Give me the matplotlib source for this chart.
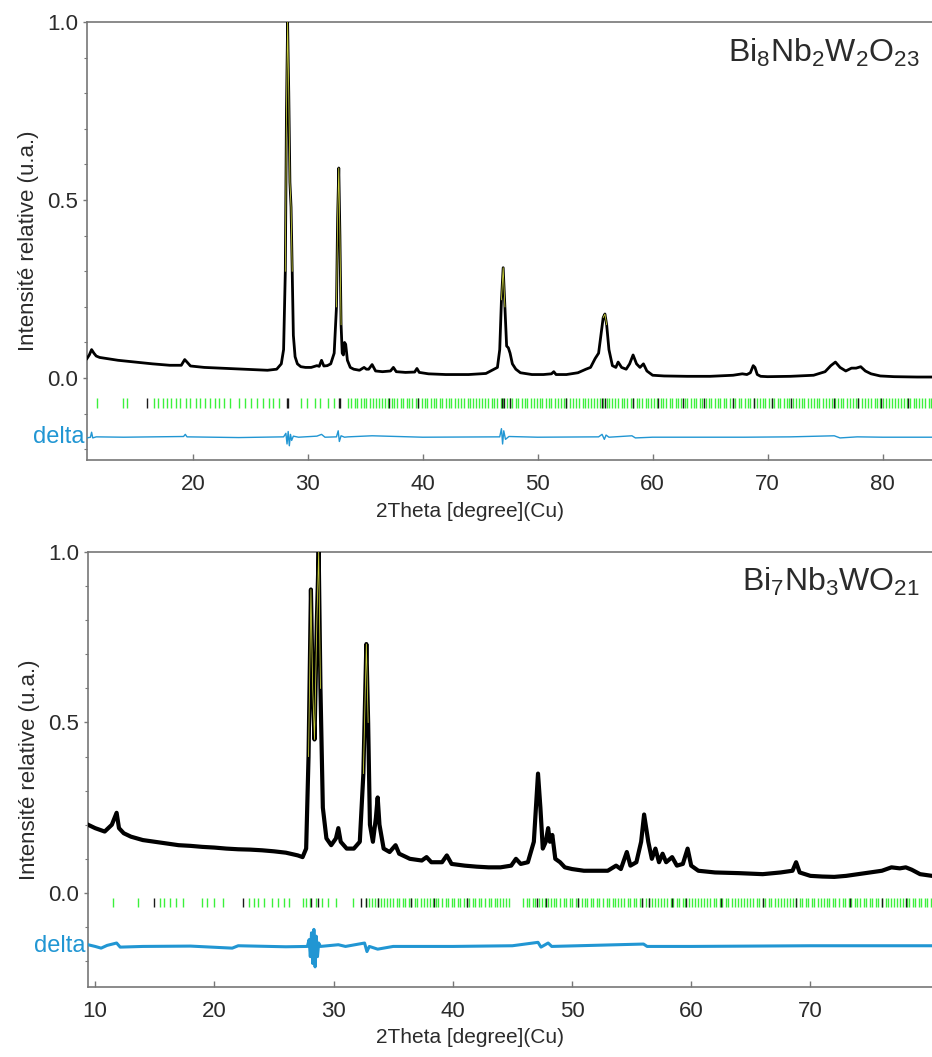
import numpy as np
import matplotlib
matplotlib.use("Agg")
import matplotlib.pyplot as plt
from matplotlib.ticker import MultipleLocator

plt.rcParams['font.family'] = ['Liberation Sans', 'DejaVu Sans']
plt.rcParams['mathtext.fontset'] = 'custom'
plt.rcParams['mathtext.rm'] = 'Liberation Sans'
plt.rcParams['mathtext.it'] = 'Liberation Sans:italic'
plt.rcParams['mathtext.default'] = 'regular'

# ---------------- Top panel: Bi8Nb2W2O23 ----------------
top_x = [10.8, 11.0, 11.2, 11.4, 11.6, 11.9, 12.5, 13.5, 15, 16.5, 18, 19.0, 19.3, 19.5, 19.8, 21, 23, 25, 26.5,
         27.3, 27.7, 27.9, 28.05, 28.15, 28.25, 28.35, 28.45, 28.55, 28.65, 28.75, 28.9, 29.1, 29.4, 29.8, 30.3,
         30.8, 31.0, 31.2, 31.4, 31.7, 32.0, 32.3, 32.5, 32.6, 32.7, 32.8, 32.9, 33.0, 33.1, 33.2, 33.3, 33.45,
         33.7, 34.0, 34.5, 34.9, 35.1, 35.3, 35.6, 35.9, 36.5, 37.2, 37.45, 37.7, 38.5, 39.3, 39.5, 39.7, 40.5,
         42, 44, 45.5, 46.2, 46.5, 46.7, 46.85, 47.0, 47.15, 47.3, 47.45, 47.6, 47.8, 48.1, 48.5, 49.5, 50.5,
         51.2, 51.4, 51.6, 52.5, 53.5, 54.2, 54.6, 55.0, 55.3, 55.5, 55.7, 55.85, 56.0, 56.2, 56.5, 56.8, 57.0,
         57.3, 57.7, 58.0, 58.3, 58.6, 58.9, 59.2, 59.5, 60.0, 61, 63, 65, 67, 67.8, 68.2, 68.5, 68.75, 68.9,
         69.1, 69.4, 70, 72, 74, 75.0, 75.5, 75.9, 76.3, 76.8, 77.3, 77.7, 78.1, 78.5, 79.0, 79.8, 81, 83, 84.3]
top_y = [0.055, 0.065, 0.08, 0.07, 0.062, 0.058, 0.055, 0.05, 0.045, 0.04, 0.036, 0.036, 0.052, 0.045, 0.034,
         0.03, 0.027, 0.024, 0.022, 0.025, 0.04, 0.08, 0.3, 0.75, 1.0, 0.8, 0.55, 0.48, 0.3, 0.12, 0.06, 0.04,
         0.032, 0.03, 0.03, 0.035, 0.033, 0.05, 0.034, 0.035, 0.04, 0.07, 0.2, 0.45, 0.59, 0.4, 0.15, 0.07,
         0.065, 0.1, 0.095, 0.05, 0.03, 0.025, 0.022, 0.03, 0.025, 0.025, 0.038, 0.02, 0.018, 0.02, 0.03,
         0.018, 0.016, 0.017, 0.027, 0.016, 0.012, 0.01, 0.01, 0.013, 0.025, 0.03, 0.08, 0.22, 0.31, 0.2,
         0.09, 0.085, 0.07, 0.04, 0.025, 0.015, 0.01, 0.01, 0.012, 0.018, 0.01, 0.01, 0.015, 0.025, 0.03,
         0.055, 0.07, 0.12, 0.17, 0.18, 0.15, 0.08, 0.035, 0.03, 0.045, 0.03, 0.025, 0.04, 0.065, 0.04, 0.03,
         0.04, 0.02, 0.008, 0.006, 0.005, 0.005, 0.008, 0.012, 0.01, 0.015, 0.035, 0.03, 0.01, 0.005, 0.004,
         0.005, 0.008, 0.018, 0.035, 0.045, 0.03, 0.02, 0.028, 0.028, 0.032, 0.02, 0.012, 0.006, 0.004,
         0.003, 0.003]

top_delta_x = [10.8, 11.1, 11.2, 11.3, 11.6, 14, 19.2, 19.35, 19.5, 24, 27.9, 28.1, 28.2, 28.3, 28.4, 28.5,
               28.6, 28.75, 29.2, 30.8, 31.2, 31.5, 32.5, 32.65, 32.75, 32.9, 33.2, 33.5, 35.6, 40, 46.7,
               46.85, 46.95, 47.05, 47.2, 47.5, 50, 55.3, 55.6, 55.8, 55.95, 56.2, 58.2, 58.5, 60, 68, 72,
               75.8, 76.3, 77.8, 80, 85]
top_delta_y = [-0.168, -0.166, -0.152, -0.168, -0.165, -0.166, -0.164, -0.158, -0.165, -0.167, -0.165,
               -0.155, -0.185, -0.15, -0.19, -0.158, -0.175, -0.163, -0.166, -0.163, -0.158, -0.166,
               -0.165, -0.148, -0.178, -0.162, -0.166, -0.165, -0.162, -0.166, -0.165, -0.142, -0.185,
               -0.148, -0.172, -0.164, -0.166, -0.165, -0.158, -0.172, -0.16, -0.166, -0.162, -0.168,
               -0.166, -0.166, -0.165, -0.162, -0.168, -0.165, -0.166, -0.166]

top_ticks_green = [11.7, 13.9, 14.3, 16.6, 17.0, 17.4, 17.8, 18.1, 18.5, 18.9, 19.4, 19.8, 20.3, 20.6, 21.1,
                   21.5, 21.9, 22.3, 22.7, 23.2, 24.0, 24.5, 25.1, 25.6, 26.1, 26.6, 27.0, 27.5, 29.4, 29.9,
                   30.6, 31.1, 31.8, 32.3, 33.5, 33.8, 34.1, 34.3, 34.6, 34.9, 35.1, 35.4, 35.7, 35.9, 36.2,
                   36.5, 36.7, 37.0, 37.3, 37.5, 37.8, 38.1, 38.3, 38.6, 38.8, 39.1, 39.4, 39.6, 39.9, 40.2,
                   40.4, 40.7, 41.0, 41.2, 41.5, 41.7, 42.0, 42.3, 42.5, 42.8, 43.1, 43.3, 43.6, 43.9, 44.1,
                   44.4, 44.6, 44.9, 45.2, 45.4, 45.7, 46.0, 46.2, 46.5, 46.8, 47.0, 47.3, 47.6, 47.8, 48.1,
                   48.3, 48.6, 48.9, 49.1, 49.4, 49.7, 49.9, 50.2, 50.4, 50.7, 51.0, 51.2, 51.5, 51.8, 52.0,
                   52.3, 52.5, 52.8, 53.1, 53.3, 53.6, 53.9, 54.1, 54.4, 54.6, 54.9, 55.2, 55.4, 55.7, 56.0,
                   56.2, 56.5, 56.7, 57.0, 57.3, 57.5, 57.8, 58.1, 58.3, 58.6, 58.8, 59.1, 59.4, 59.6, 59.9,
                   60.1, 60.4, 60.7, 60.9, 61.2, 61.5, 61.7, 62.0, 62.2, 62.5, 62.8, 63.0, 63.3, 63.6, 63.8,
                   64.1, 64.3, 64.6, 64.9, 65.1, 65.4, 65.7, 65.9, 66.2, 66.4, 66.7, 67.0, 67.2, 67.5, 67.7,
                   68.0, 68.3, 68.5, 68.8, 69.1, 69.3, 69.6, 69.8, 70.1, 70.4, 70.6, 70.9, 71.1, 71.4, 71.7,
                   71.9, 72.2, 72.5, 72.7, 73.0, 73.2, 73.5, 73.8, 74.0, 74.3, 74.5, 74.8, 75.1, 75.3, 75.6,
                   75.9, 76.1, 76.4, 76.6, 76.9, 77.2, 77.4, 77.7, 77.9, 78.2, 78.5, 78.7, 79.0, 79.3, 79.5,
                   79.8, 80.0, 80.3, 80.6, 80.8, 81.1, 81.3, 81.6, 81.9, 82.1, 82.4, 82.7, 82.9, 83.2, 83.4,
                   83.7, 84.0, 84.2]
top_ticks_black = [16.0, 28.2, 28.3, 32.7, 32.8, 37.1, 39.6, 46.9, 47.1, 47.6, 52.5, 55.6, 55.9, 58.3, 60.5,
                   62.6, 64.5, 67.0, 68.8, 70.4, 72.0, 75.8, 77.9, 79.9, 82.2]

# ---------------- Bottom panel: Bi7Nb3WO21 ----------------
bot_x = [9.4, 10, 10.8, 11.4, 11.8, 12.0, 12.4, 13, 14, 15, 16, 17, 18, 19, 20, 21, 22, 23, 24, 25, 26, 27,
         27.4, 27.7, 27.9, 28.1, 28.25, 28.4, 28.6, 28.75, 28.9, 29.1, 29.4, 29.8, 30.2, 30.4, 30.6, 31.1,
         31.7, 32.2, 32.5, 32.75, 32.9, 33.05, 33.3, 33.55, 33.7, 33.85, 34.2, 34.7, 35.2, 35.5, 36.4, 37.4,
         37.8, 38.2, 39.1, 39.5, 39.9, 41, 42, 43, 44, 44.9, 45.3, 45.7, 46.3, 46.8, 47.15, 47.35, 47.55,
         47.8, 48.0, 48.15, 48.35, 48.6, 49.0, 49.4, 50, 51, 52, 53, 53.7, 54.1, 54.6, 54.9, 55.4, 55.8,
         56.05, 56.4, 56.7, 57.0, 57.3, 57.6, 57.9, 58.4, 58.8, 59.3, 59.7, 60.0, 60.6, 62, 64, 66, 67.5,
         68.5, 68.8, 69.1, 70, 71, 72, 73, 74, 75, 76, 76.8, 77.5, 78, 78.5, 79.2, 80.2]
bot_y = [0.2, 0.19, 0.18, 0.2, 0.235, 0.19, 0.175, 0.165, 0.155, 0.15, 0.145, 0.14, 0.138, 0.135, 0.133,
         0.13, 0.128, 0.127, 0.125, 0.122, 0.118, 0.11, 0.105, 0.13, 0.4, 0.89, 0.6, 0.45, 0.8, 1.0, 0.6,
         0.25, 0.16, 0.14, 0.16, 0.19, 0.15, 0.13, 0.13, 0.15, 0.35, 0.73, 0.5, 0.2, 0.15, 0.22, 0.28, 0.2,
         0.13, 0.12, 0.14, 0.115, 0.1, 0.095, 0.105, 0.09, 0.09, 0.11, 0.085, 0.08, 0.077, 0.075, 0.075,
         0.08, 0.1, 0.085, 0.09, 0.15, 0.35, 0.25, 0.13, 0.15, 0.19, 0.15, 0.17, 0.1, 0.09, 0.075, 0.07,
         0.065, 0.065, 0.065, 0.08, 0.07, 0.12, 0.08, 0.09, 0.15, 0.23, 0.15, 0.1, 0.13, 0.09, 0.115, 0.09,
         0.105, 0.08, 0.085, 0.13, 0.08, 0.065, 0.06, 0.058, 0.055, 0.06, 0.065, 0.09, 0.06, 0.05, 0.048,
         0.047, 0.05, 0.055, 0.06, 0.065, 0.075, 0.072, 0.075, 0.068, 0.055, 0.05]

bot_delta_x = [9.4, 10, 10.5, 11, 11.8, 12.1, 14, 18, 21.5, 22, 26, 27.8, 27.95, 28.05, 28.15, 28.25, 28.35,
               28.45, 28.55, 28.65, 28.75, 28.9, 30.4, 31, 32.6, 32.8, 33.0, 33.7, 35, 40, 45, 47.15, 47.4,
               48, 48.3, 56.0, 56.3, 60, 70, 80.2]
bot_delta_y = [-0.152, -0.157, -0.162, -0.154, -0.147, -0.159, -0.157, -0.156, -0.162, -0.155, -0.158,
               -0.157, -0.137, -0.187, -0.117, -0.207, -0.107, -0.217, -0.127, -0.187, -0.147, -0.157,
               -0.152, -0.157, -0.147, -0.172, -0.157, -0.165, -0.157, -0.157, -0.155, -0.145, -0.159,
               -0.147, -0.157, -0.15, -0.157, -0.157, -0.155, -0.155]

bot_ticks_green = [11.5, 13.6, 15.4, 15.8, 16.3, 16.8, 17.4, 19.0, 19.4, 20.0, 20.7, 22.9, 23.3, 23.7, 24.2,
                   24.8, 25.3, 25.8, 26.3, 27.4, 27.7, 28.0, 28.5, 29.0, 29.5, 30.2, 31.6, 32.7, 33.0, 33.2,
                   33.5, 33.7, 34.0, 34.2, 34.5, 34.7, 35.0, 35.3, 35.5, 35.8, 36.0, 36.3, 36.5, 36.8, 37.0,
                   37.3, 37.6, 37.8, 38.1, 38.3, 38.6, 38.8, 39.1, 39.4, 39.6, 39.9, 40.1, 40.4, 40.6, 40.9,
                   41.2, 41.4, 41.7, 41.9, 42.2, 42.4, 42.7, 43.0, 43.2, 43.5, 43.7, 44.0, 44.2, 44.5, 44.7,
                   45.9, 46.2, 46.4, 46.7, 46.9, 47.2, 47.5, 47.7, 48.0, 48.2, 48.5, 48.7, 49.0, 49.3, 49.5,
                   49.8, 50.0, 50.3, 50.5, 50.8, 51.1, 51.3, 51.6, 51.8, 52.1, 52.3, 52.6, 52.9, 53.1, 53.4,
                   53.6, 53.9, 54.1, 54.4, 54.7, 54.9, 55.2, 55.4, 55.7, 55.9, 56.2, 56.5, 56.7, 57.0, 57.2,
                   57.5, 57.7, 58.0, 58.3, 58.5, 58.8, 59.0, 59.3, 59.5, 59.8, 60.1, 60.3, 60.6, 60.8, 61.1,
                   61.3, 61.6, 61.9, 62.1, 62.4, 62.6, 62.9, 63.1, 63.4, 63.7, 63.9, 64.2, 64.4, 64.7, 64.9,
                   65.2, 65.5, 65.7, 66.0, 66.2, 66.5, 66.7, 67.0, 67.3, 67.5, 67.8, 68.0, 68.3, 68.5, 68.8,
                   69.1, 69.3, 69.6, 69.8, 70.1, 70.3, 70.6, 70.9, 71.1, 71.4, 71.6, 71.9, 72.1, 72.4, 72.7,
                   72.9, 73.2, 73.4, 73.7, 73.9, 74.2, 74.5, 74.7, 75.0, 75.2, 75.5, 75.7, 76.0, 76.3, 76.5,
                   76.8, 77.0, 77.3, 77.5, 77.8, 78.1, 78.3, 78.6, 78.8, 79.1, 79.3, 79.6, 79.8, 80.1]
bot_ticks_black = [14.9, 22.4, 28.1, 28.7, 32.3, 32.7, 33.7, 36.5, 38.4, 41.2, 47.1, 47.8, 50.5, 55.9, 56.5,
                   58.4, 59.6, 62.5, 66.0, 68.8, 73.3, 76.0, 78.0]

panels = [
    dict(x=top_x, y=top_y, dx=top_delta_x, dy=top_delta_y, tg=top_ticks_green, tb=top_ticks_black,
         xlim=(10.8, 84.3), ylim=(-0.23, 1.0), xticks=[20, 30, 40, 50, 60, 70, 80],
         tick_band=(-0.085, -0.055), lw=2.0, dlw=1.0, calc_min=0.12,
         title=r'Bi$_8$Nb$_2$W$_2$O$_{23}$', rect=[87/932, 1-460/1057, 845/932, 438/1057]),
    dict(x=bot_x, y=bot_y, dx=bot_delta_x, dy=bot_delta_y, tg=bot_ticks_green, tb=bot_ticks_black,
         xlim=(9.4, 80.2), ylim=(-0.276, 1.0), xticks=[10, 20, 30, 40, 50, 60, 70],
         tick_band=(-0.042, -0.015), lw=3.0, dlw=2.2, calc_min=0.25,
         title=r'Bi$_7$Nb$_3$WO$_{21}$', rect=[88/932, 1-987/1057, 844/932, 435/1057]),
]

fig = plt.figure(figsize=(9.32, 10.57), dpi=100)
text_col = '#2b2b2b'
spine_col = '#777777'
delta_col = '#2196d3'

for p in panels:
    ax = fig.add_axes(p['rect'])
    xs = np.array(p['x'])
    ys = np.array(p['y'])
    ax.plot(xs, ys, color='black', lw=p['lw'], zorder=3, solid_joinstyle='round')
    calc = np.where(ys > p['calc_min'], ys, np.nan)
    ax.plot(xs, calc, color='#c9cf3a', lw=0.6, zorder=4)
    ax.vlines(p['tg'], p['tick_band'][0], p['tick_band'][1], color='#3cf03c', lw=1.0, zorder=2)
    ax.vlines(p['tb'], p['tick_band'][0], p['tick_band'][1], color='#1a1a1a', lw=1.0, zorder=2)
    ax.plot(p['dx'], p['dy'], color=delta_col, lw=p['dlw'], zorder=3)

    ax.set_xlim(*p['xlim'])
    ax.set_ylim(*p['ylim'])
    ax.set_xticks(p['xticks'])
    ax.set_yticks([0.0, 0.5, 1.0])
    ax.set_yticklabels(['0.0', '0.5', '1.0'])
    ax.yaxis.set_minor_locator(MultipleLocator(0.1))
    ax.tick_params(axis='both', which='major', labelsize=16, labelcolor=text_col, color=spine_col,
                   direction='out', length=3, width=1)
    ax.tick_params(axis='y', which='minor', color=spine_col, direction='out', length=2, width=0.8)
    ax.tick_params(axis='x', which='major', direction='in', length=4, pad=10)
    for s in ['left', 'top', 'bottom']:
        ax.spines[s].set_color(spine_col)
        ax.spines[s].set_linewidth(1.2)
    ax.spines['right'].set_visible(False)

    ax.set_ylabel('Intensité relative (u.a.)', fontsize=16, color=text_col, labelpad=6)
    ax.set_xlabel('2Theta [degree](Cu)', fontsize=15, color=text_col)
    ax.xaxis.set_label_coords(0.453, -0.095)
    ax.text(0.985, 0.93, p['title'], transform=ax.transAxes, ha='right', va='center',
            fontsize=23, color=text_col)
    ax.text(-0.003, np.median(p['dy']), 'delta', transform=ax.get_yaxis_transform(), ha='right',
            va='center', fontsize=17, color=delta_col)

fig.savefig('out.png', dpi=100, facecolor='white')
